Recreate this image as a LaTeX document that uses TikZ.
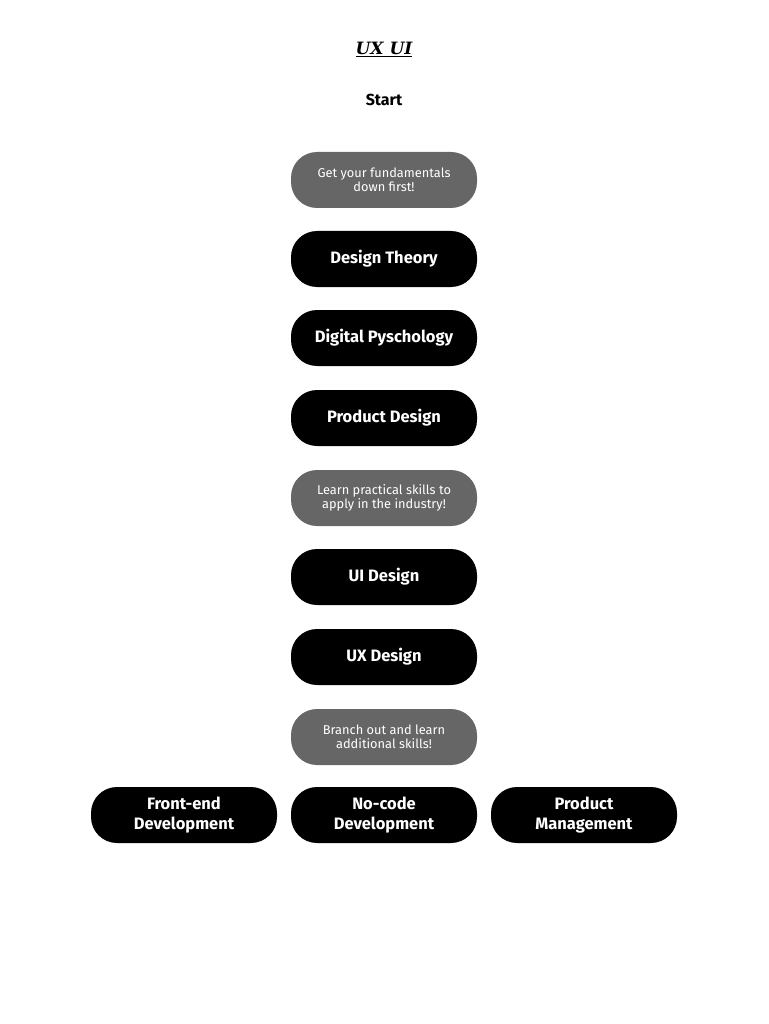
\documentclass[tikz,border=0pt]{standalone}
\usepackage{fontspec}
\setmainfont{Fira Sans}
\newfontfamily\titlefont{DejaVu Serif}
\begin{document}
\begin{tikzpicture}[x=1pt,y=-1pt,
  blk/.style={rounded corners=26pt,fill=black,minimum width=186pt,minimum height=56pt,text=white,font=\fontsize{16.5}{20}\selectfont\bfseries,align=center,inner sep=0pt},
  gry/.style={rounded corners=26pt,fill=black!60,minimum width=186pt,minimum height=56pt,text=white,font=\fontsize{12.8}{14.5}\selectfont,align=center,inner sep=0pt}]
\useasboundingbox (0,0) rectangle (768,1024);
\node (title) at (384,49) {\titlefont\fontsize{17}{20}\selectfont\bfseries\itshape\underline{UX UI}};
\node (start) at (384,100) {\fontsize{16}{18}\selectfont\bfseries Start};
\node[gry] (g1) at (384,180) {Get your fundamentals\\down first!};
\node[blk] (b1) at (384,259) {Design Theory};
\node[blk] (b2) at (384,338) {Digital Pyschology};
\node[blk] (b3) at (384,418) {Product Design};
\node[gry] (g2) at (384,498) {Learn practical skills to\\apply in the industry!};
\node[blk] (b4) at (384,577) {UI Design};
\node[blk] (b5) at (384,657) {UX Design};
\node[gry] (g3) at (384,737) {Branch out and learn\\additional skills!};
\node[blk] (c1) at (184,815) {Front-end\\Development};
\node[blk] (c2) at (384,815) {No-code\\Development};
\node[blk] (c3) at (584,815) {Product\\Management};
\end{tikzpicture}
\end{document}
